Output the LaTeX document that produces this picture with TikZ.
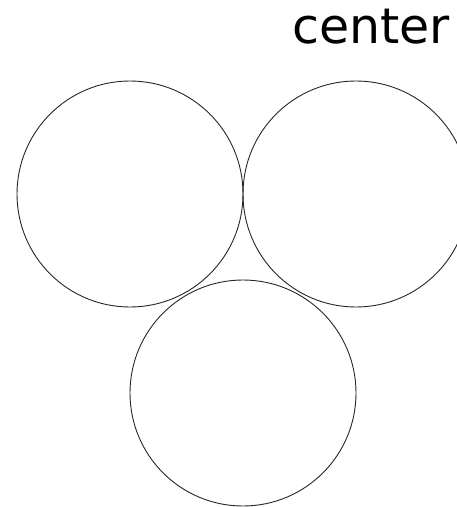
\documentclass[tikz,border=0pt]{standalone}
\usepackage{fontspec}
\setmainfont{DejaVu Sans}
\begin{document}
\begin{tikzpicture}[x=1pt,y=-1pt,
  ring/.style={draw=black!85,line width=0.9pt,circle,minimum size=226pt,inner sep=0pt},
  lbl/.style={font=\fontsize{49}{57}\selectfont,inner sep=0pt,anchor=base west}]
\useasboundingbox (0,0) rectangle (457,507);
\node[ring] (left) at (130,194) {};
\node[ring] (right) at (356,194) {};
\node[ring] (bottom) at (243,393) {};
\node[lbl] (title) at (292,43) {center};
\end{tikzpicture}
\end{document}
